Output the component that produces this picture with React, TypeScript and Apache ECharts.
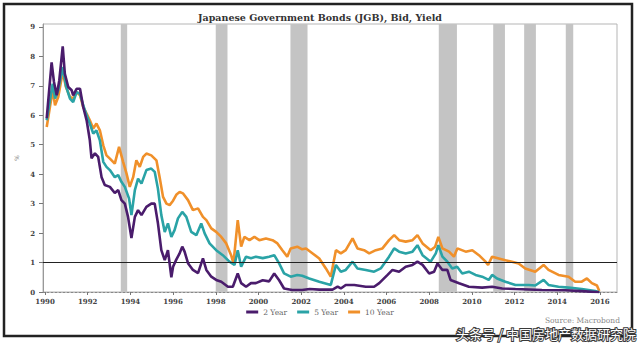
import React, { useEffect, useRef } from "react";
import * as echarts from "echarts";

const title = "Japanese Government Bonds (JGB), Bid, Yield";
const xTicks = [1990, 1992, 1994, 1996, 1998, 2000, 2002, 2004, 2006, 2008, 2010, 2012, 2014, 2016];
const yTicks = [0, 1, 2, 3, 4, 5, 6, 7, 8, 9];
const bands: [number, number][] = [
  [1993.55, 1993.85], [1998.0, 1998.55], [2001.5, 2002.3], [2008.45, 2009.3],
  [2011.0, 2011.55], [2012.45, 2013.0], [2014.4, 2014.75],
];
const refLevel = 1;

const y2: [number, number][] = [
  [1990.08, 5.9], [1990.16, 6.57], [1990.31, 7.8], [1990.42, 7.13], [1990.55, 6.68], [1990.67, 7.19],
  [1990.83, 8.34], [1990.93, 7.41], [1991.09, 6.96], [1991.25, 6.85], [1991.32, 6.68], [1991.48, 6.9],
  [1991.64, 6.9], [1991.79, 6.28], [1991.95, 5.83], [1992.1, 5.15], [1992.18, 4.54], [1992.34, 4.71],
  [1992.49, 4.59], [1992.65, 3.9], [1992.8, 3.63], [1993.04, 3.57], [1993.27, 3.36], [1993.43, 3.46],
  [1993.58, 3.12], [1993.74, 3.0], [1993.89, 2.55], [1994.05, 1.83], [1994.21, 2.55], [1994.36, 2.78],
  [1994.52, 2.61], [1994.75, 2.89], [1994.98, 3.0], [1995.14, 3.0], [1995.29, 2.34], [1995.45, 1.42],
  [1995.61, 1.08], [1995.76, 1.42], [1995.92, 0.5], [1996.0, 0.86], [1996.15, 1.1], [1996.3, 1.3],
  [1996.43, 1.54], [1996.54, 1.37], [1996.7, 0.98], [1996.93, 0.75], [1997.17, 0.64], [1997.4, 1.14],
  [1997.56, 0.75], [1997.79, 0.52], [1998.02, 0.41], [1998.26, 0.35], [1998.57, 0.18], [1998.8, 0.18],
  [1999.03, 0.63], [1999.19, 0.3], [1999.42, 0.18], [1999.65, 0.3], [1999.88, 0.3], [2000.2, 0.4],
  [2000.5, 0.36], [2000.74, 0.63], [2000.97, 0.4], [2001.2, 0.12], [2001.58, 0.07], [2002.05, 0.07],
  [2002.4, 0.1], [2002.85, 0.08], [2003.47, 0.08], [2003.71, 0.18], [2003.86, 0.12], [2004.09, 0.24],
  [2004.49, 0.24], [2005.03, 0.18], [2005.42, 0.18], [2005.66, 0.3], [2006.05, 0.58], [2006.28, 0.75],
  [2006.59, 0.69], [2006.9, 0.86], [2007.22, 0.92], [2007.45, 1.03], [2007.69, 0.92], [2008.0, 0.63],
  [2008.23, 0.69], [2008.39, 0.97], [2008.62, 0.75], [2008.85, 0.75], [2009.0, 0.41], [2009.4, 0.3],
  [2009.86, 0.18], [2010.48, 0.15], [2010.95, 0.18], [2011.42, 0.12], [2012.04, 0.1], [2013.28, 0.07],
  [2014.38, 0.06], [2015.15, 0.03], [2015.97, -0.01],
];

const y5: [number, number][] = [
  [1990.08, 5.83], [1990.23, 6.5], [1990.36, 7.07], [1990.47, 6.57], [1990.62, 6.85], [1990.83, 7.64],
  [1990.98, 7.0], [1991.17, 6.57], [1991.32, 6.45], [1991.48, 6.79], [1991.64, 6.73], [1991.79, 6.34],
  [1991.95, 6.0], [1992.1, 5.72], [1992.26, 5.38], [1992.41, 5.49], [1992.57, 5.15], [1992.73, 4.42],
  [1992.88, 4.25], [1993.04, 4.14], [1993.27, 3.9], [1993.43, 3.97], [1993.58, 3.74], [1993.74, 3.57],
  [1993.94, 3.17], [1994.05, 2.61], [1994.21, 3.46], [1994.36, 3.85], [1994.52, 3.68], [1994.75, 4.14],
  [1994.98, 4.19], [1995.14, 4.08], [1995.29, 3.51], [1995.45, 2.61], [1995.61, 2.04], [1995.76, 2.33],
  [1995.92, 1.87], [1996.07, 2.1], [1996.23, 2.5], [1996.43, 2.72], [1996.62, 2.55], [1996.85, 2.04],
  [1997.09, 1.93], [1997.32, 2.33], [1997.48, 1.99], [1997.71, 1.65], [1998.02, 1.42], [1998.33, 1.25],
  [1998.64, 1.03], [1998.88, 0.92], [1999.03, 1.42], [1999.19, 0.86], [1999.42, 1.2], [1999.65, 1.15],
  [1999.88, 1.2], [2000.2, 1.15], [2000.5, 1.2], [2000.74, 1.25], [2000.97, 0.97], [2001.2, 0.63],
  [2001.51, 0.52], [2001.82, 0.58], [2002.05, 0.55], [2002.38, 0.46], [2002.85, 0.35], [2003.39, 0.24],
  [2003.63, 0.92], [2003.86, 0.69], [2004.09, 0.75], [2004.41, 1.03], [2004.64, 0.8], [2005.03, 0.75],
  [2005.42, 0.69], [2005.73, 0.8], [2006.12, 1.2], [2006.36, 1.48], [2006.59, 1.37], [2006.9, 1.31],
  [2007.22, 1.37], [2007.45, 1.59], [2007.69, 1.25], [2008.07, 1.03], [2008.31, 1.31], [2008.43, 1.59],
  [2008.62, 1.2], [2008.85, 1.03], [2009.08, 0.8], [2009.31, 0.86], [2009.55, 0.63], [2009.86, 0.69],
  [2010.17, 0.58], [2010.48, 0.52], [2010.79, 0.41], [2010.95, 0.58], [2011.18, 0.46], [2011.57, 0.35],
  [2012.04, 0.24], [2012.66, 0.24], [2012.97, 0.22], [2013.36, 0.41], [2013.59, 0.24], [2014.06, 0.18],
  [2014.53, 0.15], [2015.15, 0.1], [2015.78, 0.03], [2015.97, -0.01],
];

const y10: [number, number][] = [
  [1990.08, 5.6], [1990.23, 6.28], [1990.36, 6.85], [1990.47, 6.34], [1990.62, 6.62], [1990.83, 7.47],
  [1990.98, 6.96], [1991.17, 6.62], [1991.32, 6.57], [1991.48, 6.79], [1991.64, 6.68], [1991.79, 6.28],
  [1991.95, 6.06], [1992.1, 5.83], [1992.26, 5.55], [1992.41, 5.72], [1992.57, 5.49], [1992.73, 4.98],
  [1992.88, 4.64], [1993.04, 4.53], [1993.27, 4.36], [1993.47, 4.93], [1993.66, 4.42], [1993.82, 4.02],
  [1993.97, 3.57], [1994.13, 3.9], [1994.28, 4.47], [1994.44, 4.25], [1994.6, 4.59], [1994.75, 4.7],
  [1994.98, 4.64], [1995.22, 4.47], [1995.37, 3.9], [1995.53, 3.23], [1995.69, 3.0], [1995.84, 2.95],
  [1996.0, 3.1], [1996.15, 3.3], [1996.31, 3.4], [1996.46, 3.35], [1996.7, 3.12], [1996.93, 2.78],
  [1997.17, 2.84], [1997.4, 2.55], [1997.56, 2.44], [1997.79, 2.16], [1998.02, 2.04], [1998.26, 1.87],
  [1998.49, 1.65], [1998.72, 1.25], [1998.83, 0.97], [1999.03, 2.44], [1999.19, 1.54], [1999.34, 1.87],
  [1999.58, 1.76], [1999.81, 1.87], [2000.04, 1.76], [2000.35, 1.82], [2000.66, 1.76], [2000.89, 1.65],
  [2001.12, 1.42], [2001.35, 1.2], [2001.51, 1.48], [2001.82, 1.54], [2002.05, 1.45], [2002.23, 1.48],
  [2002.54, 1.31], [2002.85, 1.14], [2003.16, 0.8], [2003.39, 0.52], [2003.63, 1.42], [2003.86, 1.31],
  [2004.09, 1.42], [2004.41, 1.82], [2004.64, 1.48], [2004.95, 1.42], [2005.19, 1.31], [2005.5, 1.42],
  [2005.81, 1.48], [2006.12, 1.76], [2006.36, 1.93], [2006.59, 1.76], [2006.9, 1.71], [2007.22, 1.76],
  [2007.45, 1.93], [2007.69, 1.65], [2008.07, 1.42], [2008.28, 1.54], [2008.43, 1.87], [2008.62, 1.48],
  [2008.93, 1.37], [2009.16, 1.2], [2009.32, 1.48], [2009.71, 1.37], [2010.02, 1.42], [2010.33, 1.25],
  [2010.64, 1.03], [2010.76, 0.92], [2010.95, 1.2], [2011.26, 1.14], [2011.57, 1.08], [2011.88, 1.03],
  [2012.19, 0.97], [2012.5, 0.8], [2012.97, 0.69], [2013.36, 0.92], [2013.59, 0.75], [2014.06, 0.58],
  [2014.53, 0.52], [2014.84, 0.35], [2015.15, 0.35], [2015.39, 0.46], [2015.62, 0.3], [2015.86, 0.22],
  [2015.97, 0.03],
];

const seriesNames = ["2 Year", "5 Year", "10 Year"];
const colors = ["#4a1c6c", "#2aa3a6", "#f0902a"];

const SERIF = "'DejaVu Serif', 'Liberation Serif', serif";

export default function App() {
  const ref = useRef<HTMLDivElement>(null);
  useEffect(() => {
    if (!ref.current) return;
    const chart = echarts.init(ref.current, null, { renderer: "svg" });
    const dataSets = [y2, y5, y10];
    const zs = [5, 4, 3];
    const option: any = {
      animation: false,
      backgroundColor: "#ffffff",
      title: {
        text: title,
        left: "center",
        top: 7,
        textStyle: { fontFamily: SERIF, fontSize: 9.5, fontWeight: "bold", color: "#333" },
      },
      grid: {
        left: 43, right: 23, top: 24, bottom: 53,
        show: true, borderColor: "#b5b5b5", borderWidth: 1, backgroundColor: "transparent",
      },
      legend: {
        data: seriesNames,
        bottom: 24,
        left: "center",
        icon: "rect",
        itemWidth: 12,
        itemHeight: 3,
        itemGap: 10,
        textStyle: { fontFamily: SERIF, fontSize: 7.5, color: "#666" },
      },
      xAxis: {
        type: "value",
        min: 1989.906,
        max: 2016.8,
        splitLine: { show: false },
        axisLine: { show: true, onZero: false, lineStyle: { color: "#888", width: 1, type: [2, 2] } },
        axisTick: { show: true, length: 3, customValues: xTicks, lineStyle: { color: "#777" } },
        axisLabel: {
          customValues: xTicks,
          fontFamily: SERIF, fontSize: 7, fontWeight: "bold", color: "#444", margin: 6,
          formatter: (v: number) => String(Math.round(v)),
        },
      },
      yAxis: {
        type: "value",
        min: 0,
        max: 9.1,
        name: "%",
        nameLocation: "middle",
        nameGap: 22,
        nameRotate: 90,
        nameTextStyle: { fontFamily: SERIF, fontSize: 6, color: "#777" },
        splitLine: { show: false },
        axisLine: { show: true, lineStyle: { color: "#999", width: 1 } },
        axisTick: { show: true, length: 4, customValues: yTicks, lineStyle: { color: "#777" } },
        axisLabel: {
          customValues: yTicks,
          fontFamily: SERIF, fontSize: 7, fontWeight: "bold", color: "#444", margin: 8,
        },
      },
      series: [
        {
          name: "bands",
          type: "line",
          data: [],
          z: 1,
          silent: true,
          markArea: {
            silent: true,
            itemStyle: { color: "#c4c4c4" },
            data: bands.map(([a, b]) => [{ xAxis: a }, { xAxis: b }]),
          },
        },
        ...seriesNames.map((name, i) => ({
          name,
          type: "line",
          data: dataSets[i],
          z: zs[i],
          showSymbol: false,
          symbol: "none",
          lineStyle: { color: colors[i], width: 2.6 },
          itemStyle: { color: colors[i] },
        })),
        {
          name: "ref",
          type: "line",
          data: [],
          z: 6,
          silent: true,
          markLine: {
            silent: true,
            symbol: "none",
            label: { show: false },
            lineStyle: { color: "#222", width: 1, type: "solid" },
            data: [{ yAxis: refLevel }],
          },
        },
      ],
      graphic: [
        {
          type: "rect",
          shape: { x: 4, y: 4, width: 628, height: 332 },
          style: { fill: "none", stroke: "#222", lineWidth: 2.5 },
          silent: true,
        },
        {
          type: "text",
          x: 620, y: 320,
          style: {
            text: "Source: Macrobond",
            fill: "#888", font: "7.5px 'DejaVu Serif', serif",
            textAlign: "right", textVerticalAlign: "middle",
          },
          silent: true,
        },
        {
          type: "text",
          x: 636, y: 333,
          z: 100,
          style: {
            text: "头条号 / 中国房地产数据研究院",
            fill: "#ffffff",
            stroke: "#3a3a3a",
            lineWidth: 2,
            font: "13px 'Noto Sans CJK SC', sans-serif",
            textAlign: "right", textVerticalAlign: "middle",
          },
          silent: true,
        },
      ],
    };
    chart.setOption(option);
    return () => chart.dispose();
  }, []);
  return (
    <div
      ref={ref}
      style={{ position: "fixed", left: 0, top: 0, width: 640, height: 345, background: "#fff" }}
    />
  );
}
